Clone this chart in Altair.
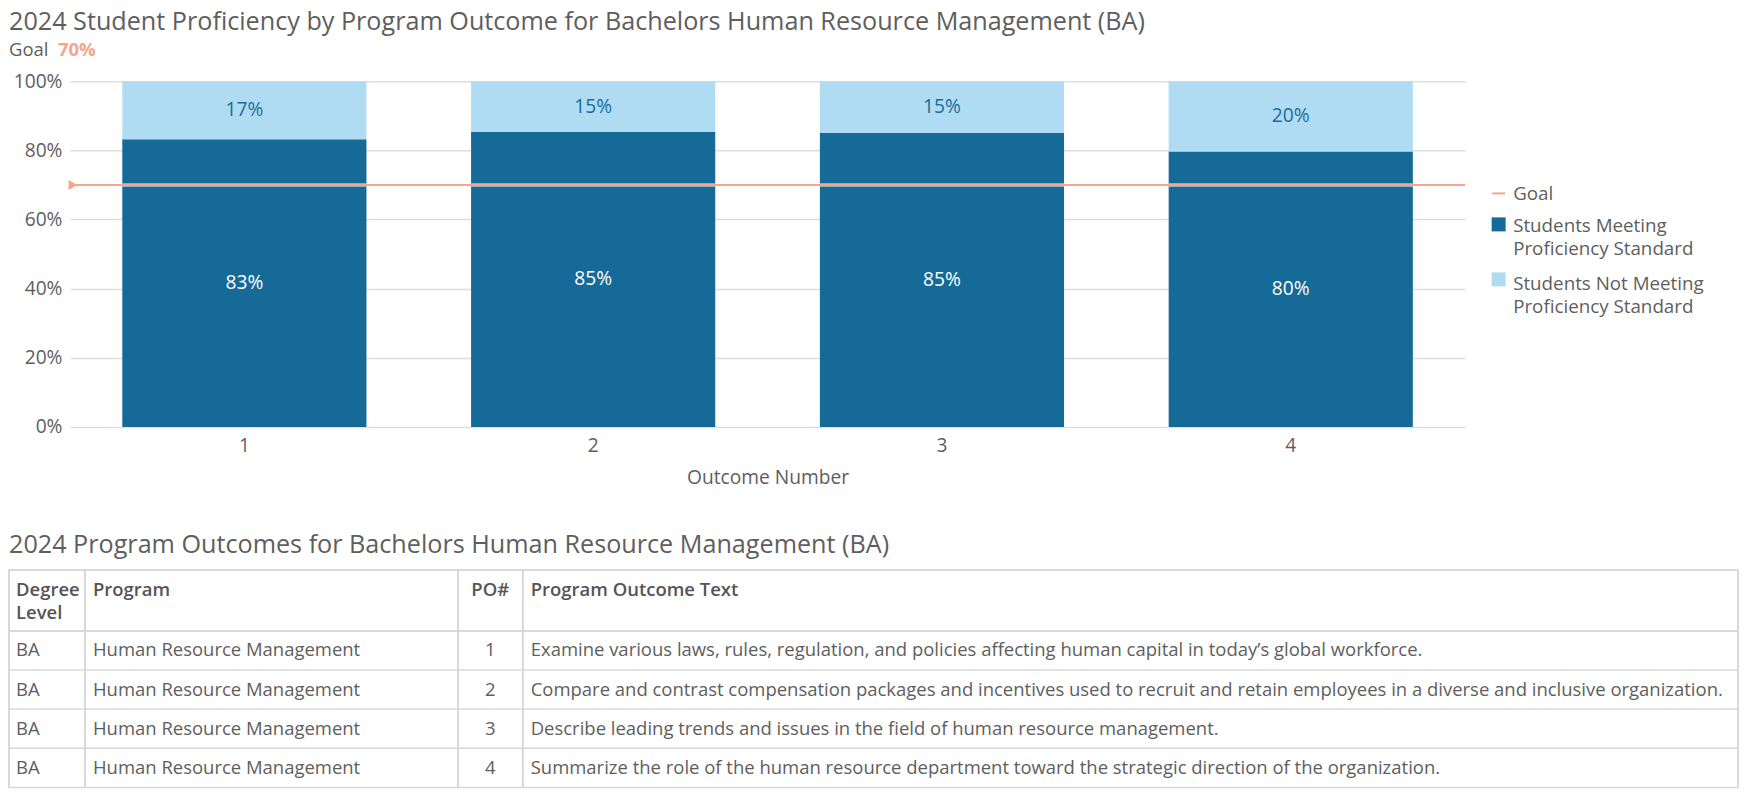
import altair as alt
import pandas as pd

# Chart values
outcomes = [1, 2, 3, 4]
meeting_pct = [83.2, 85.3, 85.0, 79.7]
not_meeting_pct = [16.8, 14.7, 15.0, 20.3]
series_names = ["Students Meeting Proficiency Standard",
                "Students Not Meeting Proficiency Standard"]
goal_name = "Goal"
goal_pct = [70]
y_ticks = [0, 20, 40, 60, 80, 100]
chart_title = "2024 Student Proficiency by Program Outcome for Bachelors Human Resource Management (BA)"
x_title = "Outcome Number"

# Table values
table_title = "2024 Program Outcomes for Bachelors Human Resource Management (BA)"
table_headers = ["Degree\nLevel", "Program", "PO#", "Program Outcome Text"]
degree_levels = ["BA", "BA", "BA", "BA"]
programs = ["Human Resource Management", "Human Resource Management",
            "Human Resource Management", "Human Resource Management"]
po_numbers = [1, 2, 3, 4]
outcome_texts = [
    "Examine various laws, rules, regulation, and policies affecting human capital in today\u2019s global workforce.",
    "Compare and contrast compensation packages and incentives used to recruit and retain employees in a diverse and inclusive organization.",
    "Describe leading trends and issues in the field of human resource management.",
    "Summarize the role of the human resource department toward the strategic direction of the organization.",
]

# Styles
DARK = "#156a98"
LIGHT = "#b0dcf3"
SALMON = "#f8a48c"
TXT = "#5e5e5e"
GRID = "#dedede"
BORDER = "#d8d8d8"
FONT = "Open Sans"
FS = 19.2        # chart text size
LFS = 18.8       # legend text size
TFS = 18.5       # table text size
HFS = 25.2       # heading size
W, H = 1396, 346

bar_rows = []
for i, o in enumerate(outcomes):
    bar_rows.append({"outcome": o, "series": series_names[0], "value": meeting_pct[i], "stack_order": 0})
    bar_rows.append({"outcome": o, "series": series_names[1], "value": not_meeting_pct[i], "stack_order": 1})
bar_df = pd.DataFrame(bar_rows)
goal_df = pd.DataFrame({"name": [goal_name], "goal": goal_pct})

color_scale = alt.Scale(domain=series_names, range=[DARK, LIGHT])
base = alt.Chart(bar_df)

bars = base.mark_bar().encode(
    x=alt.X("outcome:O", title=x_title,
            scale=alt.Scale(paddingInner=0.3, paddingOuter=0.15),
            axis=alt.Axis(labelAngle=0, domain=False, ticks=False, labelFontSize=FS,
                          labelColor=TXT, labelPadding=10, titleFontSize=FS,
                          titleFontWeight="normal", titleColor=TXT, titlePadding=12)),
    y=alt.Y("value:Q", stack="zero", title=None,
            scale=alt.Scale(domain=[0, 100], nice=False),
            axis=alt.Axis(values=y_ticks, labelExpr="datum.value + '%'", domain=False,
                          ticks=False, gridColor=GRID, gridWidth=1.5, labelFontSize=FS,
                          labelColor=TXT, labelPadding=8)),
    color=alt.Color("series:N", scale=color_scale, legend=None),
    order=alt.Order("stack_order:Q"),
)

# light band where the goal line crosses the bars
goal_band = base.transform_filter(alt.datum.stack_order == 0).mark_tick(
    color="#c9cdd0", thickness=4, size=244
).encode(x="outcome:O", y=alt.datum(goal_pct[0]))

goal_rule = alt.Chart(goal_df).mark_rule(color=SALMON, strokeWidth=2).encode(y="goal:Q")
goal_marker = alt.Chart(goal_df).mark_point(
    shape="triangle-right", filled=True, color=SALMON, size=100, opacity=1
).encode(y="goal:Q", x=alt.value(3))

bar_labels = base.transform_stack(
    stack="value", as_=["y0", "y1"], groupby=["outcome"],
    sort=[alt.SortField("stack_order")]
).transform_calculate(
    mid="(datum.y0 + datum.y1) / 2",
    label="format(datum.value, '.0f') + '%'"
).mark_text(fontSize=FS, font=FONT).encode(
    x="outcome:O",
    y="mid:Q",
    text="label:N",
    color=alt.condition(alt.datum.series == series_names[0], alt.value("white"), alt.value("#1a6c98")),
)

# title and goal caption
title_mark = alt.Chart(pd.DataFrame({"t": [chart_title]})).mark_text(
    align="left", baseline="middle", fontSize=HFS, color=TXT, font=FONT
).encode(text="t:N", x=alt.value(-61), y=alt.value(-59))
goal_caption = alt.Chart(goal_df).mark_text(
    align="left", baseline="middle", fontSize=18.5, color=TXT, font=FONT
).encode(text="name:N", x=alt.value(-61), y=alt.value(-31))
goal_value = alt.Chart(goal_df).transform_calculate(
    txt="format(datum.goal, 'd') + '%'"
).mark_text(
    align="left", baseline="middle", fontSize=18.5, color=SALMON, fontWeight="bold", font=FONT
).encode(text="txt:N", x=alt.value(-12), y=alt.value(-31))

# legend
LX = 1423
leg_goal_sym = alt.Chart(goal_df).mark_rule(color=SALMON, strokeWidth=2).encode(
    x=alt.value(LX), x2=alt.value(LX + 13), y=alt.value(112.3))
leg_goal_txt = alt.Chart(goal_df).mark_text(
    align="left", baseline="middle", fontSize=LFS, color=TXT, font=FONT
).encode(text="name:N", x=alt.value(LX + 21), y=alt.value(113))

legend_layers = []
for i, (sq_y, txt_y) in enumerate([(143.3, 135.7), (198.3, 193.7)]):
    leg = alt.Chart(pd.DataFrame({"series": [series_names[i]]}))
    legend_layers.append(leg.mark_square(size=196, opacity=1).encode(
        color=alt.Color("series:N", scale=color_scale, legend=None),
        x=alt.value(LX + 6.5), y=alt.value(sq_y)))
    legend_layers.append(leg.transform_calculate(
        label="replace(datum.series, ' Proficiency', '\\nProficiency')"
    ).mark_text(
        align="left", baseline="top", fontSize=LFS, color=TXT, font=FONT,
        lineBreak="\n", lineHeight=23.5
    ).encode(text="label:N", x=alt.value(LX + 21), y=alt.value(txt_y)))

top = alt.layer(
    bars, goal_band, goal_rule, goal_marker, bar_labels,
    title_mark, goal_caption, goal_value, leg_goal_sym, leg_goal_txt, *legend_layers
).properties(width=W, height=H)

# table
table_df = pd.DataFrame({"degree": degree_levels, "program": programs,
                         "po": po_numbers, "text": outcome_texts})
TH = 157
HEAD_TOP = -61
col_x = [-61, 15, 388, 453, 1669]
row_y = alt.Y("po:O", axis=None, scale=alt.Scale(paddingInner=0, paddingOuter=0))
tbase = alt.Chart(table_df)
cell = dict(baseline="middle", fontSize=TFS, color=TXT, font=FONT)

t_layers = [
    tbase.mark_text(align="left", **cell).encode(x=alt.value(col_x[0] + 7), y=row_y, text="degree:N"),
    tbase.mark_text(align="left", **cell).encode(x=alt.value(col_x[1] + 8), y=row_y, text="program:N"),
    tbase.mark_text(align="center", **cell).encode(x=alt.value((col_x[2] + col_x[3]) / 2), y=row_y, text="po:N"),
    tbase.mark_text(align="left", **cell).encode(x=alt.value(col_x[3] + 8), y=row_y, text="text:N"),
    tbase.mark_rule(color=BORDER, strokeWidth=1.5).encode(
        y=alt.Y("po:O", bandPosition=1), x=alt.value(col_x[0]), x2=alt.value(col_x[-1])),
]
head_df = pd.DataFrame({"h": table_headers, "col": [0, 1, 2, 3]})
for c in range(4):
    hx = (col_x[2] + col_x[3]) / 2 if c == 2 else col_x[c] + (7 if c == 0 else 8)
    t_layers.append(alt.Chart(head_df).transform_filter(alt.datum.col == c).mark_text(
        align="center" if c == 2 else "left", baseline="top", fontSize=TFS, fontWeight=600,
        color="#555555", font=FONT, lineBreak="\n", lineHeight=23
    ).encode(text="h:N", x=alt.value(hx), y=alt.value(-50)))
for yy in [HEAD_TOP, 0]:
    t_layers.append(alt.Chart(head_df).mark_rule(color=BORDER, strokeWidth=1.5).encode(
        x=alt.value(col_x[0]), x2=alt.value(col_x[-1]), y=alt.value(yy)))
for xx in col_x:
    t_layers.append(alt.Chart(head_df).mark_rule(color=BORDER, strokeWidth=1.5).encode(
        x=alt.value(xx), y=alt.value(HEAD_TOP), y2=alt.value(TH)))
t_layers.append(alt.Chart(pd.DataFrame({"t": [table_title]})).mark_text(
    align="left", baseline="middle", fontSize=HFS, color=TXT, font=FONT
).encode(text="t:N", x=alt.value(-61), y=alt.value(-85.5)))

table = alt.layer(*t_layers).properties(width=W, height=TH)

chart = alt.vconcat(
    top, table, spacing=44.8,
    padding={"top": 2, "left": 0, "right": 0, "bottom": 0}
).configure(font=FONT).configure_view(stroke=None)

chart.save("out.html", embed_options={"renderer": "svg", "actions": False})
